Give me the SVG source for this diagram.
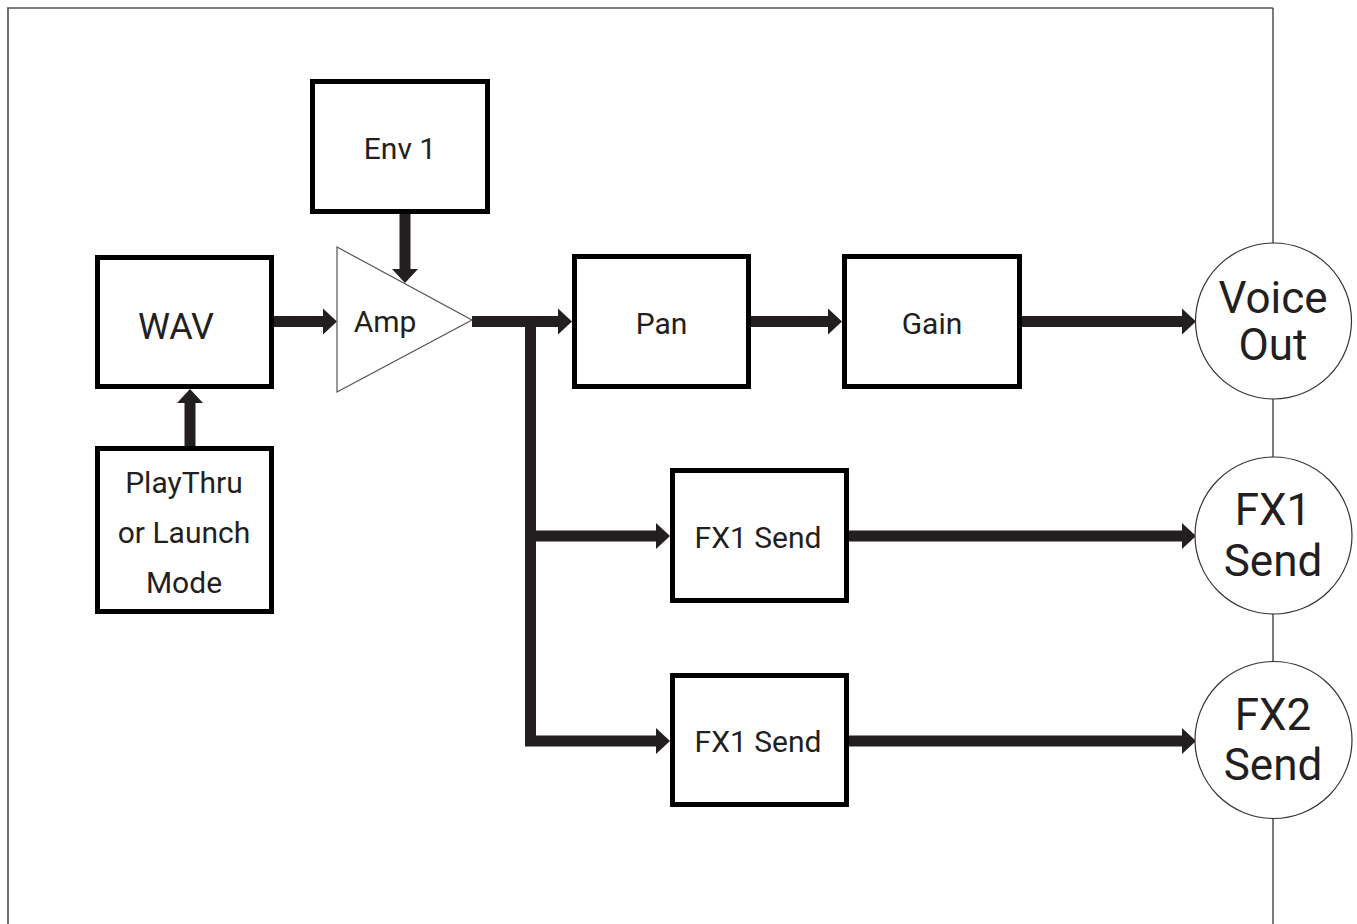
<svg xmlns="http://www.w3.org/2000/svg" width="1357" height="924" viewBox="0 0 1357 924">
<style>
.box{fill:#fff;stroke:#000;stroke-width:5}
.lbl{font-family:Roboto,"Liberation Sans",sans-serif;font-size:30px;fill:#231f20;text-anchor:middle}
.big{font-family:Roboto,"Liberation Sans",sans-serif;font-size:44px;fill:#231f20;text-anchor:middle}
.wire{fill:none;stroke:#231f20;stroke-width:11;stroke-linejoin:miter}
.circ{fill:#fff;stroke:#333;stroke-width:1.2}
</style>
<defs>
<marker id="ah" markerUnits="userSpaceOnUse" markerWidth="14" markerHeight="26" refX="0" refY="13" orient="auto" overflow="visible">
<path d="M0,0 L14,13 L0,26 Z" fill="#231f20"/>
</marker>
</defs>
<rect width="1357" height="924" fill="#fff"/>
<g id="frame">
<line x1="8" y1="8" x2="8" y2="924" stroke="#707070" stroke-width="2"/>
<line x1="7" y1="8" x2="1273" y2="8" stroke="#555" stroke-width="1.5"/>
<line x1="1273" y1="8" x2="1273" y2="924" stroke="#333" stroke-width="1.3"/>
</g>
<g id="connectors">
<path class="wire" d="M274,321.5 H323" marker-end="url(#ah)"/>
<path class="wire" d="M190,446 V403" marker-end="url(#ah)"/>
<path class="wire" d="M405,214 V269" marker-end="url(#ah)"/>
<path class="wire" d="M472,321.5 H558" marker-end="url(#ah)"/>
<path class="wire" d="M530.5,316 V741 H656" marker-end="url(#ah)"/>
<path class="wire" d="M530.5,536 H656" marker-end="url(#ah)"/>
<path class="wire" d="M751,321.5 H828" marker-end="url(#ah)"/>
<path class="wire" d="M1022,321.5 H1182" marker-end="url(#ah)"/>
<path class="wire" d="M849,536 H1182" marker-end="url(#ah)"/>
<path class="wire" d="M849,741 H1182" marker-end="url(#ah)"/>
</g>
<g id="env1"><rect class="box" x="312.5" y="81.5" width="175" height="130"/><text class="lbl" x="400" y="159">Env 1</text></g>
<g id="wav"><rect class="box" x="97.5" y="257.5" width="174" height="129"/><text class="lbl" x="176" y="339" style="font-size:36px">WAV</text></g>
<g id="mode"><rect class="box" x="97.5" y="448.5" width="174" height="163"/>
<text class="lbl" x="184" y="493">PlayThru</text><text class="lbl" x="184" y="543">or Launch</text><text class="lbl" x="184" y="593">Mode</text></g>
<g id="amp"><polygon points="337,247 472,320 337,392" fill="#fff" stroke="#555" stroke-width="1.2"/><text class="lbl" x="385" y="332">Amp</text></g>
<g id="pan"><rect class="box" x="574.5" y="256.5" width="174" height="130"/><text class="lbl" x="661.5" y="334">Pan</text></g>
<g id="gain"><rect class="box" x="844.5" y="256.5" width="175" height="130"/><text class="lbl" x="932" y="334">Gain</text></g>
<g id="fx1send"><rect class="box" x="672.5" y="470.5" width="174" height="130"/><text class="lbl" x="758" y="548">FX1 Send</text></g>
<g id="fx2send"><rect class="box" x="672.5" y="675.5" width="174" height="129"/><text class="lbl" x="758" y="752">FX1 Send</text></g>
<g id="voiceout"><circle class="circ" cx="1273.5" cy="321" r="78"/><text class="big" x="1273" y="313">Voice</text><text class="big" x="1273" y="360">Out</text></g>
<g id="fx1out"><circle class="circ" cx="1273.5" cy="535.5" r="78.5"/><text class="big" x="1273" y="525">FX1</text><text class="big" x="1273" y="576">Send</text></g>
<g id="fx2out"><circle class="circ" cx="1273.5" cy="740" r="78.5"/><text class="big" x="1273" y="730">FX2</text><text class="big" x="1273" y="780">Send</text></g>
</svg>
